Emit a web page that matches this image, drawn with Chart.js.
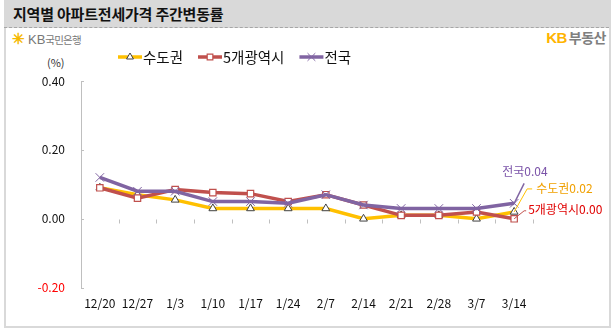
<!DOCTYPE html>
<html>
<head>
<meta charset="utf-8">
<script src="https://cdn.jsdelivr.net/npm/chart.js@4.4.1/dist/chart.umd.min.js"></script>
<style>
  html, body { margin: 0; padding: 0; background: #fff; }
  body { width: 613px; height: 330px; position: relative; overflow: hidden; font-family: 'Noto Sans CJK KR', sans-serif; }
  #frame { position: absolute; left: 4px; top: 0; width: 603px; height: 326px; border: 2px solid #d9d9d9; border-top: none; }
  #bar { position: absolute; left: 4px; top: 0; width: 605px; height: 27px; background: #d9d9d9; border-bottom: 1px dashed #a6a6a6; }
  #title { position: absolute; left: 13px; top: 3px; font-size: 15px; font-weight: bold; color: #111; letter-spacing: -0.2px; }
  #bank { position: absolute; left: 12px; top: 29px; color: #777; white-space: nowrap; line-height: 16px; }
  #bank .star { color: #f5b800; font-size: 15px; font-weight: bold; }
  #bank .kb { font-family: 'Liberation Sans', sans-serif; font-size: 13px; margin-left: 3px; }
  #bank .nm { font-size: 10.5px; letter-spacing: -0.8px; }
  #estate { position: absolute; right: 7px; top: 28px; font-size: 14px; font-weight: bold; color: #7f7f7f; white-space: nowrap; line-height: 18px; letter-spacing: -0.5px; }
  #estate .kb { color: #ffb400; font-family: 'Liberation Sans', sans-serif; font-size: 15px; margin-right: 2px; }
  #unit { position: absolute; left: 47px; top: 54px; font-size: 11px; color: #333; }
  canvas { position: absolute; left: 0; top: 0; }
</style>
</head>
<body>
<div id="frame"></div>
<div id="bar"></div>
<div id="title">지역별 아파트전세가격 주간변동률</div>
<div id="bank"><span class="star">✳</span><span class="kb">KB</span><span class="nm">국민은행</span></div>
<div id="estate"><span class="kb">KB</span>부동산</div>
<div id="unit">(%)</div>
<canvas id="c" width="613" height="330"></canvas>
<script>
const categories = ['12/20', '12/27', '1/3', '1/10', '1/17', '1/24', '2/7', '2/14', '2/21', '2/28', '3/7', '3/14'];
const seriesNames = ['수도권', '5개광역시', '전국'];
const capitalArea = [0.09, 0.07, 0.055, 0.03, 0.03, 0.03, 0.03, 0.00, 0.01, 0.01, 0.00, 0.02];
const fiveMetros = [0.09, 0.06, 0.085, 0.076, 0.073, 0.05, 0.07, 0.04, 0.01, 0.01, 0.02, 0.00];
const nationwide = [0.12, 0.08, 0.08, 0.05, 0.05, 0.045, 0.07, 0.04, 0.03, 0.03, 0.03, 0.045];
const endLabels = ['0.02', '0.00', '0.04'];
const yMin = -0.2, yMax = 0.4, yStep = 0.2;

const FONT = "'Noto Sans CJK KR', sans-serif";
const lineColors = ['#ffc000', '#c0504d', '#8064a2'];
const labelColors = ['#f0a000', '#e00000', '#7a52a8'];
const markers = [
  { pointStyle: 'triangle', radius: 4.5, fill: '#fff', stroke: '#404040', bw: 1 },
  { pointStyle: 'rect', radius: 4.5, fill: '#fff', stroke: '#c0504d', bw: 1.2 },
  { pointStyle: 'crossRot', radius: 6, fill: '#8064a2', stroke: '#8064a2', bw: 1 }
];

function makeSet(i, data, order) {
  const m = markers[i];
  return {
    label: seriesNames[i], data: data, order: order,
    borderColor: lineColors[i], borderWidth: 3.5, tension: 0,
    pointStyle: m.pointStyle, pointRadius: m.radius, pointHoverRadius: m.radius,
    pointBackgroundColor: m.fill, pointBorderColor: m.stroke, pointBorderWidth: m.bw
  };
}

// leader-line offsets relative to last point, and text anchor
const leaders = [
  { path: [[13, -23], [18, -23]], text: [22, -23] },
  { path: [[10, -8], [12, -8]], text: [14, -9] },
  { path: [[10, -20]], text: [-12, -32] }
];

const decor = {
  id: 'decor',
  beforeDatasetsDraw(chart) {
    const { ctx, chartArea: a, scales: { x, y } } = chart;
    ctx.save();
    ctx.strokeStyle = '#bfbfbf';
    ctx.lineWidth = 1;
    ctx.beginPath();
    y.ticks.forEach(t => {
      const py = Math.round(y.getPixelForValue(t.value)) + 0.5;
      ctx.moveTo(a.left, py); ctx.lineTo(a.left + 3, py);
    });
    const y0 = Math.round(y.getPixelForValue(0)) + 0.5;
    const step = (a.right - a.left) / categories.length;
    for (let i = 1; i <= categories.length; i++) {
      const px = Math.round(a.left + i * step) + 0.5;
      ctx.moveTo(px, y0); ctx.lineTo(px, y0 + 4);
    }
    ctx.stroke();
    ctx.restore();
  },
  afterDatasetsDraw(chart) {
    const ctx = chart.ctx;
    ctx.save();
    ctx.font = '12px ' + FONT;
    ctx.textBaseline = 'middle';
    [0, 1, 2].forEach(i => {
      const meta = chart.getDatasetMeta(i);
      const pt = meta.data[meta.data.length - 1];
      const L = leaders[i];
      ctx.strokeStyle = lineColors[i];
      ctx.lineWidth = i === 2 ? 1.5 : 1;
      ctx.beginPath();
      ctx.moveTo(pt.x, pt.y);
      L.path.forEach(p => ctx.lineTo(pt.x + p[0], pt.y + p[1]));
      ctx.stroke();
      ctx.fillStyle = labelColors[i];
      ctx.fillText(seriesNames[i] + endLabels[i], pt.x + L.text[0], pt.y + L.text[1]);
    });
    ctx.restore();
  },
  afterDraw(chart) {
    const ctx = chart.ctx;
    ctx.save();
    ctx.font = '14.5px ' + FONT;
    ctx.textBaseline = 'middle';
    let lx = 118;
    const ly = 57;
    seriesNames.forEach((name, i) => {
      ctx.strokeStyle = lineColors[i];
      ctx.lineWidth = 3.5;
      ctx.beginPath(); ctx.moveTo(lx, ly); ctx.lineTo(lx + 24, ly); ctx.stroke();
      const m = markers[i];
      ctx.fillStyle = m.fill; ctx.strokeStyle = m.stroke; ctx.lineWidth = m.bw;
      Chart.helpers.drawPoint(ctx, { pointStyle: m.pointStyle, radius: m.radius - 0.5, borderWidth: m.bw, rotation: 0 }, lx + 12, ly);
      ctx.fillStyle = '#111';
      ctx.fillText(name, lx + 25, ly);
      lx += 25 + ctx.measureText(name).width + 15;
    });
    ctx.restore();
  }
};

new Chart(document.getElementById('c'), {
  type: 'line',
  data: {
    labels: categories,
    datasets: [makeSet(0, capitalArea, 3), makeSet(1, fiveMetros, 2), makeSet(2, nationwide, 1)]
  },
  options: {
    responsive: false, animation: false,
    layout: { padding: { left: 0, right: 80, top: 81, bottom: 0 } },
    plugins: { legend: { display: false }, tooltip: { enabled: false } },
    scales: {
      x: {
        offset: true,
        grid: { display: false, drawTicks: false },
        border: { display: false },
        ticks: { color: '#111', font: { family: FONT, size: 12 }, padding: 9, maxRotation: 0, autoSkip: false },
        afterFit(s) { s.height = 42.3; }
      },
      y: {
        min: yMin, max: yMax,
        grid: { drawTicks: false, color: c => (c.tick && c.tick.value === 0 ? '#bfbfbf' : 'rgba(0,0,0,0)') },
        border: { display: true, color: '#bfbfbf', width: 1 },
        ticks: {
          stepSize: yStep, padding: 16,
          font: { family: FONT, size: 12 },
          color: c => (c.tick.value < 0 ? '#ff0000' : '#111'),
          callback: v => v.toFixed(2)
        },
        afterFit(s) { s.width = 81; }
      }
    }
  },
  plugins: [decor]
});
</script>
</body>
</html>
